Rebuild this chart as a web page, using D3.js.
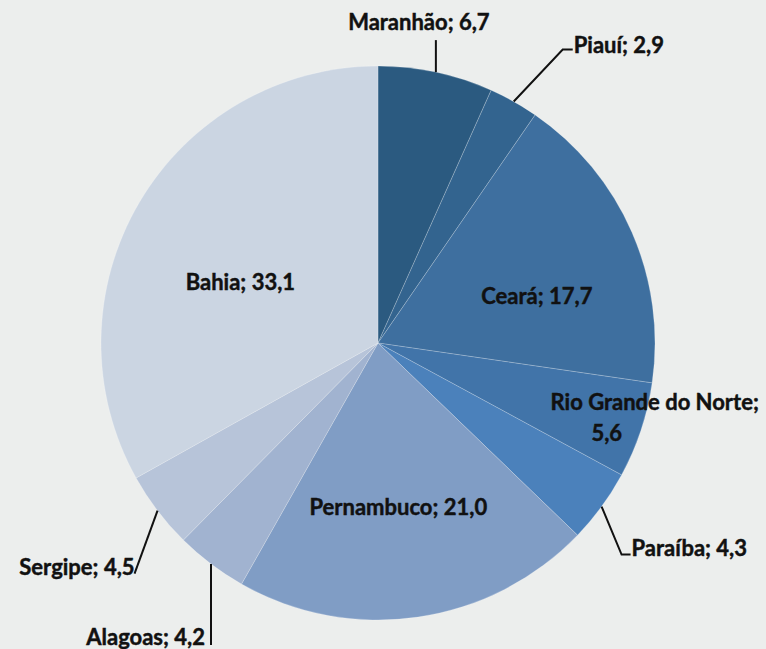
<!DOCTYPE html>
<html>
<head>
<meta charset="utf-8">
<script src="https://cdn.jsdelivr.net/npm/d3@7"></script>
<style>
  html, body { margin: 0; padding: 0; background: #eceeed; }
  svg text { font-family: Lato, "Noto Sans", sans-serif; font-weight: 700; fill: #111; font-size: 22px; stroke: #111; stroke-width: 0.45px; }
</style>
</head>
<body>
<div id="chart"></div>
<script>
// dados: participação no Nordeste (%)
const categories = ['Maranhão', 'Piauí', 'Ceará', 'Rio Grande do Norte', 'Paraíba', 'Pernambuco', 'Alagoas', 'Sergipe', 'Bahia'];
const values = [6.7, 2.9, 17.7, 5.6, 4.3, 21.0, 4.2, 4.5, 33.1];
const colors = ['#2b5a80', '#33648f', '#3e6f9f', '#4174a9', '#4b81bb', '#809dc5', '#a1b3d0', '#b7c4d9', '#cbd5e2'];

// posicionamento dos rótulos (layout)
const labelPos = {
  'Maranhão': { out: true, dx: 0, dy: -32, tx: -17, ty: -10, anchor: 'middle' },
  'Piauí': { out: true, dx: 49, dy: -52, hook: 10, tx: 11, ty: 3, anchor: 'start' },
  'Ceará': { k: 0.61, ox: 4, oy: 21 },
  'Rio Grande do Norte': { k: 0.87, lines: [[48, -9], [0, 22]] },
  'Paraíba': { out: true, dx: 20, dy: 48, hook: 9, tx: 10, ty: 1, anchor: 'start' },
  'Pernambuco': { k: 0.61, ox: -4, oy: -3 },
  'Alagoas': { out: true, dx: 0, dy: 81, tx: -6, ty: 0, anchor: 'end' },
  'Sergipe': { out: true, dx: -23, dy: 63, tx: 0, ty: 1, anchor: 'end' },
  'Bahia': { k: 0.53, ox: -11, oy: 14 }
};

const width = 766, height = 649;
const cx = 378, cy = 343, radius = 277;

const fmt = v => d3.format('.1f')(v).replace('.', ',');

const svg = d3.select('#chart')
  .append('svg')
  .attr('width', width)
  .attr('height', height);

const g = svg.append('g')
  .attr('transform', `translate(${cx},${cy})`);

const data = categories.map((c, i) => ({ name: c, value: values[i], color: colors[i] }));

const pie = d3.pie().value(d => d.value).sort(null);
const arc = d3.arc().innerRadius(0).outerRadius(radius);
const arcs = pie(data);

// fatias
g.selectAll('path.slice')
  .data(arcs)
  .enter()
  .append('path')
  .attr('class', 'slice')
  .attr('d', arc)
  .attr('fill', d => d.data.color)
  .attr('stroke', 'rgba(255,255,255,0.35)')
  .attr('stroke-width', 0.6);

// rótulos
arcs.forEach(d => {
  const p = labelPos[d.data.name];
  const mid = (d.startAngle + d.endAngle) / 2;
  const label = `${d.data.name}; ${fmt(d.data.value)}`;
  if (p.out) {
    const x0 = Math.sin(mid) * radius, y0 = -Math.cos(mid) * radius;
    const x1 = x0 + p.dx, y1 = y0 + p.dy;
    const pts = [[x0, y0], [x1, y1]];
    if (p.hook) pts.push([x1 + p.hook, y1]);
    g.append('path')
      .attr('d', d3.line()(pts))
      .attr('fill', 'none')
      .attr('stroke', '#111')
      .attr('stroke-width', 2);
    g.append('text')
      .attr('x', x1 + p.tx)
      .attr('y', y1 + p.ty)
      .attr('text-anchor', p.anchor)
      .text(label);
  } else {
    const r = radius * p.k;
    const x = Math.sin(mid) * r + (p.ox || 0), y = -Math.cos(mid) * r + (p.oy || 0);
    if (p.lines) {
      const parts = [`${d.data.name};`, fmt(d.data.value)];
      parts.forEach((t, i) => {
        g.append('text')
          .attr('x', x + p.lines[i][0])
          .attr('y', y + p.lines[i][1])
          .attr('text-anchor', 'middle')
          .text(t);
      });
    } else {
      g.append('text')
        .attr('x', x)
        .attr('y', y)
        .attr('dy', '0.35em')
        .attr('text-anchor', 'middle')
        .text(label);
    }
  }
});
</script>
</body>
</html>
